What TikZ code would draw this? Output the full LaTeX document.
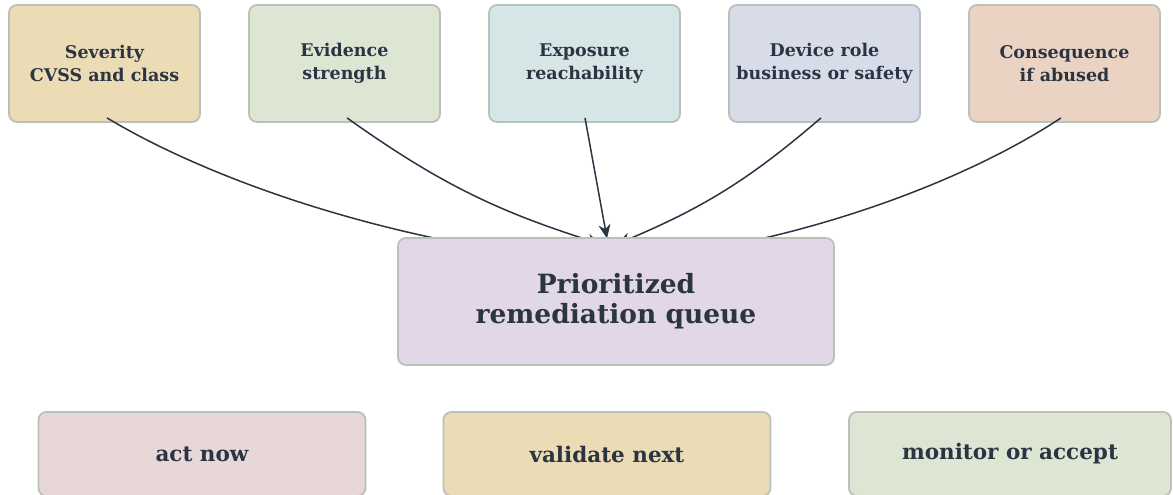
\documentclass[tikz,border=0pt]{standalone}
\usepackage{fontspec}
\setmainfont{DejaVu Serif}
\usetikzlibrary{arrows.meta}
\definecolor{ink}{HTML}{2B3442}
\definecolor{edgegray}{HTML}{BAC0BA}
\definecolor{sand}{HTML}{EBDCB6}
\definecolor{sage}{HTML}{DDE5D3}
\definecolor{mist}{HTML}{D6E5E5}
\definecolor{periwinkle}{HTML}{D8DCE9}
\definecolor{peach}{HTML}{EAD3C3}
\definecolor{lilac}{HTML}{E2D7E6}
\definecolor{blush}{HTML}{E7D7D8}
\tikzset{
  card/.style={draw=edgegray, line width=1.8pt, rounded corners=8pt, align=center,
    text=ink, font=\bfseries},
  factor/.style={card, minimum width=191pt, minimum height=117pt,
    font=\fontsize{17.5}{23}\bfseries\selectfont},
  queue/.style={card, minimum width=436pt, minimum height=127pt,
    font=\fontsize{26.5}{30}\bfseries\selectfont},
  tier/.style={card, minimum width=327pt, minimum height=84pt,
    font=\fontsize{21.5}{24}\bfseries\selectfont},
  feed/.style={draw=ink, line width=1.5pt, -{Stealth[length=14pt,width=12pt]}},
}
\begin{document}
\begin{tikzpicture}[x=1pt,y=-1pt]
\useasboundingbox (0,0) rectangle (1173,495);
% input factors
\node[factor, fill=sand]       (sev) at (104.5,63.5) {Severity\\CVSS and class};
\node[factor, fill=sage]       (evi) at (344.5,63.5) {Evidence\\strength};
\node[factor, fill=mist]       (exp) at (584.5,63.5) {Exposure\\reachability};
\node[factor, fill=periwinkle] (dev) at (824.5,63.5) {Device role\\business or safety};
\node[factor, fill=peach]      (con) at (1064.5,63.5) {Consequence\\if abused};
% entry points on the queue's top edge (the queue box is drawn over them)
\coordinate (e1) at (598,262);
\coordinate (e2) at (601,244);
\coordinate (e3) at (607,238.5);
\coordinate (e4) at (617,244);
\coordinate (e5) at (616,262);
\draw[feed] (sev.south) ++(2.5,-5) coordinate (s1)
  .. controls +(108,65) and +(-198,-17) .. (e1);
\draw[feed] (evi.south) ++(2.5,-5) coordinate (s2) to[bend right=9] (e2);
\draw[feed] (exp.south) ++(0.5,-5) coordinate (s3) -- (e3);
\draw[feed] (dev.south) ++(-3.5,-5) coordinate (s4) to[bend left=9] (e4);
\draw[feed] (con.south) ++(-3.5,-5) coordinate (s5)
  .. controls +(-98,65) and +(179,-17) .. (e5);
% central queue
\node[queue, fill=lilac] (q) at (616,301.5) {Prioritized\\remediation queue};
% outcome tiers
\node[tier, fill=blush] (now) at (202,454) {act now};
\node[tier, fill=sand]  (val) at (607,454) {validate next};
\node[tier, fill=sage, minimum width=322pt] (mon) at (1010,454) {monitor or accept};
\end{tikzpicture}
\end{document}
